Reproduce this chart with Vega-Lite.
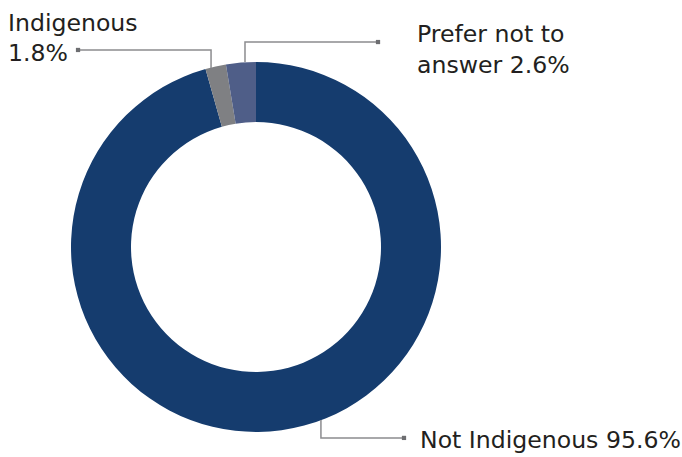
{
  "$schema": "https://vega.github.io/schema/vega-lite/v6.json",
  "width": 682,
  "height": 457,
  "autosize": "none",
  "padding": 0,
  "background": "white",
  "config": {"view": {"stroke": null}, "axis": {"domain": false}},
  "datasets": {
    "slices": [
      {"category": "Not Indigenous", "value": 95.6, "ord": 1, "cx": 0, "cy": 0},
      {"category": "Indigenous", "value": 1.8, "ord": 2, "cx": 0, "cy": 0},
      {"category": "Prefer not to answer", "value": 2.6, "ord": 3, "cx": 0, "cy": 0}
    ],
    "leaders": [
      {"g": "Prefer", "s": 1, "lx": -0.0595, "ly": 1.0},
      {"g": "Prefer", "s": 2, "lx": -0.0595, "ly": 1.108},
      {"g": "Prefer", "s": 3, "lx": 0.6595, "ly": 1.108},
      {"g": "Indigenous", "s": 1, "lx": -0.243, "ly": 0.968},
      {"g": "Indigenous", "s": 2, "lx": -0.243, "ly": 1.065},
      {"g": "Indigenous", "s": 3, "lx": -0.962, "ly": 1.065},
      {"g": "Not", "s": 1, "lx": 0.351, "ly": -0.935},
      {"g": "Not", "s": 2, "lx": 0.351, "ly": -1.032},
      {"g": "Not", "s": 3, "lx": 0.8, "ly": -1.032}
    ],
    "labels": [
      {"t": "Indigenous", "tx": -1.3405, "ty": 1.1676},
      {"t": "1.8%", "tx": -1.3405, "ty": 1.0054},
      {"t": "Prefer not to", "tx": 0.8703, "ty": 1.1081},
      {"t": "answer 2.6%", "tx": 0.8703, "ty": 0.9405},
      {"t": "Not Indigenous 95.6%", "tx": 0.8865, "ty": -1.0865}
    ]
  },
  "layer": [
    {
      "data": {"name": "slices"},
      "mark": {"type": "arc", "outerRadius": 185, "innerRadius": 125, "stroke": null},
      "encoding": {
        "x": {"field": "cx", "type": "quantitative", "scale": {"domain": [-1.383784, 2.302703], "nice": false, "zero": false}, "axis": null},
        "y": {"field": "cy", "type": "quantitative", "scale": {"domain": [-1.135135, 1.335135], "nice": false, "zero": false}, "axis": null},
        "theta": {"field": "value", "type": "quantitative", "stack": true},
        "order": {"field": "ord", "type": "quantitative"},
        "color": {
          "field": "category", "type": "nominal", "legend": null,
          "scale": {"domain": ["Not Indigenous", "Indigenous", "Prefer not to answer"], "range": ["#153c6e", "#7f8083", "#4f5e88"]}
        }
      }
    },
    {
      "data": {"name": "leaders"},
      "mark": {"type": "line", "color": "#8c8c8f", "strokeWidth": 1.5},
      "encoding": {
        "x": {"field": "lx", "type": "quantitative", "scale": {"domain": [-1.383784, 2.302703], "nice": false, "zero": false}, "axis": null},
        "y": {"field": "ly", "type": "quantitative", "scale": {"domain": [-1.135135, 1.335135], "nice": false, "zero": false}, "axis": null},
        "detail": {"field": "g"},
        "order": {"field": "s", "type": "quantitative"}
      }
    },
    {
      "data": {"name": "leaders"},
      "transform": [{"filter": "datum.s == 3"}],
      "mark": {"type": "square", "color": "#6d6e71", "size": 18, "opacity": 1},
      "encoding": {
        "x": {"field": "lx", "type": "quantitative", "axis": null},
        "y": {"field": "ly", "type": "quantitative", "axis": null}
      }
    },
    {
      "data": {"name": "labels"},
      "mark": {"type": "text", "align": "left", "baseline": "alphabetic", "font": "DejaVu Sans", "fontSize": 23.6, "color": "#231f20"},
      "encoding": {
        "x": {"field": "tx", "type": "quantitative", "axis": null},
        "y": {"field": "ty", "type": "quantitative", "axis": null},
        "text": {"field": "t"}
      }
    }
  ]
}
